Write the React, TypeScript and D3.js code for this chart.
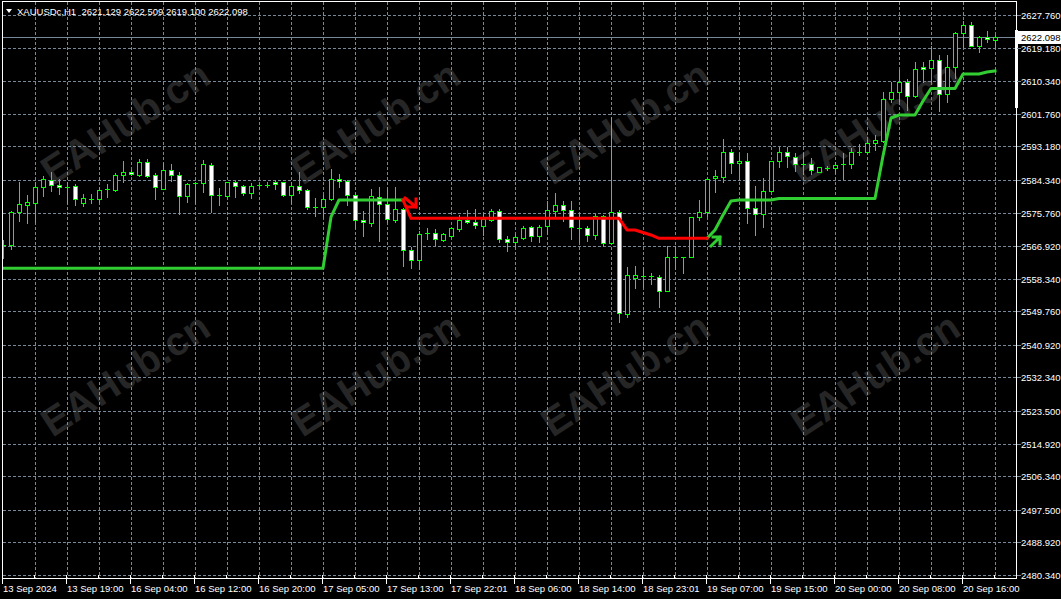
import React from "react";
import * as d3 from "d3";

const W = 1061;
const H = 599;

const opens = [
  2567.30, 2567.22, 2575.90, 2577.75, 2578.27, 2582.48, 2584.33, 2583.01, 2582.55, 2582.75,
  2578.27, 2579.33, 2579.33, 2581.90, 2581.69, 2585.64, 2586.43, 2585.64, 2589.06, 2585.64,
  2581.96, 2586.96, 2585.64, 2580.12, 2583.50, 2583.54, 2588.27, 2580.38, 2580.12, 2583.80,
  2582.75, 2580.91, 2583.01, 2583.05, 2583.80, 2583.80, 2580.38, 2582.75, 2581.69, 2577.22,
  2577.22, 2579.33, 2584.59, 2584.06, 2580.38, 2573.80, 2573.01, 2579.85, 2578.01, 2573.80,
  2576.69, 2565.90, 2563.27, 2570.38, 2570.38, 2568.53, 2569.59, 2571.43, 2573.80, 2573.27,
  2572.22, 2573.80, 2576.17, 2568.80, 2568.01, 2569.06, 2571.96, 2569.59, 2572.22, 2576.17,
  2577.75, 2576.43, 2571.69, 2571.69, 2569.85, 2574.85, 2567.74, 2575.90, 2549.05, 2558.53,
  2559.06, 2559.06, 2558.79, 2555.11, 2564.06, 2564.10, 2564.06, 2574.59, 2575.90, 2584.85,
  2585.12, 2591.70, 2588.80, 2589.33, 2576.96, 2575.38, 2581.43, 2589.33, 2591.70, 2590.38,
  2588.54, 2588.54, 2586.43, 2587.49, 2587.49, 2588.54, 2588.54, 2591.70, 2591.70, 2594.07,
  2594.59, 2605.65, 2607.49, 2610.12, 2606.44, 2614.07, 2613.81, 2615.91, 2606.96, 2614.07,
  2623.02, 2625.13, 2619.60, 2621.97, 2621.129,
];

const highs = [
  2568.53, 2576.17, 2583.80, 2580.38, 2583.80, 2585.38, 2586.43, 2584.59, 2583.80, 2583.27,
  2580.64, 2580.64, 2582.48, 2583.27, 2586.17, 2589.33, 2586.96, 2589.85, 2589.85, 2586.17,
  2588.80, 2588.54, 2586.43, 2583.54, 2583.80, 2589.59, 2588.80, 2582.22, 2583.90, 2584.06,
  2583.01, 2583.54, 2583.54, 2583.80, 2584.33, 2583.90, 2583.80, 2586.43, 2581.96, 2579.59,
  2580.38, 2587.22, 2585.91, 2584.33, 2580.91, 2576.17, 2581.96, 2582.48, 2582.48, 2582.48,
  2576.96, 2566.69, 2570.90, 2571.69, 2571.43, 2570.38, 2571.96, 2575.11, 2576.43, 2576.69,
  2575.64, 2576.69, 2576.69, 2569.59, 2570.11, 2572.22, 2572.22, 2572.48, 2578.80, 2580.91,
  2578.80, 2578.80, 2575.64, 2572.22, 2575.38, 2575.11, 2600.91, 2576.43, 2561.43, 2561.69,
  2561.43, 2559.85, 2559.32, 2566.95, 2566.95, 2564.15, 2574.70, 2579.06, 2584.85, 2586.96,
  2595.12, 2592.49, 2591.43, 2591.43, 2582.75, 2584.85, 2589.45, 2593.01, 2593.01, 2591.43,
  2591.43, 2590.12, 2587.80, 2588.01, 2589.06, 2591.43, 2592.75, 2593.80, 2594.86, 2596.17,
  2607.49, 2610.12, 2613.28, 2610.91, 2615.39, 2615.39, 2619.60, 2617.23, 2617.23, 2623.29,
  2626.18, 2625.92, 2622.23, 2623.55, 2622.509,
];

const lows = [
  2563.80, 2566.16, 2573.53, 2573.01, 2573.27, 2580.12, 2581.43, 2580.64, 2578.27, 2577.75,
  2577.48, 2578.27, 2578.54, 2579.85, 2581.43, 2583.80, 2585.64, 2585.38, 2585.12, 2579.33,
  2581.96, 2584.06, 2575.38, 2578.54, 2578.27, 2581.17, 2575.90, 2577.75, 2579.85, 2579.85,
  2580.38, 2579.59, 2582.22, 2582.48, 2581.96, 2580.12, 2578.27, 2580.91, 2576.69, 2574.85,
  2574.59, 2579.06, 2582.48, 2577.75, 2571.69, 2569.59, 2572.22, 2568.27, 2573.27, 2573.27,
  2561.69, 2561.16, 2560.90, 2568.80, 2567.22, 2568.27, 2569.32, 2570.90, 2573.01, 2571.69,
  2569.85, 2573.53, 2568.01, 2565.64, 2566.69, 2568.80, 2568.27, 2568.01, 2570.11, 2574.85,
  2573.53, 2568.80, 2568.01, 2568.27, 2568.80, 2566.95, 2567.48, 2546.95, 2548.26, 2555.90,
  2556.16, 2556.95, 2550.90, 2555.00, 2560.90, 2559.85, 2563.95, 2573.80, 2574.85, 2581.17,
  2583.80, 2586.17, 2584.33, 2573.01, 2569.85, 2571.96, 2581.33, 2587.75, 2587.75, 2586.70,
  2585.91, 2585.91, 2586.35, 2586.96, 2586.17, 2584.59, 2587.49, 2590.91, 2591.43, 2592.22,
  2594.33, 2604.86, 2605.12, 2602.75, 2606.17, 2610.12, 2610.12, 2602.49, 2604.86, 2611.18,
  2619.34, 2619.50, 2618.02, 2620.65, 2619.100,
];

const closes = [
  2567.22, 2575.90, 2578.01, 2578.54, 2582.48, 2584.59, 2583.01, 2582.48, 2582.48, 2579.33,
  2579.59, 2579.40, 2581.69, 2581.96, 2585.64, 2586.43, 2585.91, 2589.06, 2585.38, 2582.48,
  2586.96, 2585.64, 2580.12, 2583.27, 2583.54, 2588.54, 2580.38, 2580.45, 2583.80, 2582.75,
  2580.91, 2582.75, 2583.05, 2583.10, 2583.27, 2580.38, 2582.75, 2581.69, 2577.22, 2577.25,
  2579.33, 2584.59, 2584.06, 2580.38, 2573.80, 2573.27, 2580.12, 2578.01, 2574.06, 2576.69,
  2565.90, 2563.27, 2570.11, 2570.42, 2568.80, 2570.11, 2571.69, 2573.80, 2573.27, 2572.48,
  2574.06, 2576.17, 2568.80, 2568.01, 2569.32, 2571.69, 2569.59, 2571.96, 2576.43, 2577.75,
  2576.43, 2571.96, 2571.75, 2569.85, 2574.85, 2567.74, 2575.90, 2549.32, 2559.32, 2559.32,
  2559.10, 2559.00, 2555.11, 2564.06, 2564.10, 2564.06, 2574.59, 2575.90, 2584.59, 2585.40,
  2591.70, 2588.80, 2589.33, 2576.96, 2575.38, 2581.43, 2589.33, 2591.70, 2590.64, 2588.54,
  2588.58, 2586.96, 2587.75, 2587.52, 2588.27, 2588.58, 2591.70, 2591.75, 2594.07, 2594.86,
  2605.65, 2607.49, 2610.12, 2606.44, 2613.55, 2613.55, 2615.91, 2606.96, 2614.07, 2623.02,
  2625.13, 2619.60, 2621.97, 2621.44, 2622.098,
];

// trailing-stop style indicator value per bar
const trendValues = [
  2561.08, 2561.08, 2561.08, 2561.08, 2561.08, 2561.08, 2561.08, 2561.08, 2561.08, 2561.08,
  2561.08, 2561.08, 2561.08, 2561.08, 2561.08, 2561.08, 2561.08, 2561.08, 2561.08, 2561.08,
  2561.08, 2561.08, 2561.08, 2561.08, 2561.08, 2561.08, 2561.08, 2561.08, 2561.08, 2561.08,
  2561.08, 2561.08, 2561.08, 2561.08, 2561.08, 2561.08, 2561.08, 2561.08, 2561.08, 2561.08,
  2561.08, 2574.59, 2579.06, 2579.06, 2579.06, 2579.06, 2579.06, 2579.06, 2579.06, 2579.06,
  2579.06, 2574.24, 2574.24, 2574.24, 2574.24, 2574.24, 2574.24, 2574.24, 2574.24, 2574.24,
  2574.24, 2574.24, 2574.24, 2574.24, 2574.24, 2574.24, 2574.24, 2574.24, 2574.24, 2574.24,
  2574.24, 2574.24, 2574.24, 2574.24, 2574.24, 2574.24, 2574.24, 2574.24, 2571.17, 2571.17,
  2570.50, 2569.85, 2568.98, 2568.98, 2568.98, 2568.98, 2568.98, 2568.98, 2568.98, 2571.17,
  2575.11, 2578.80, 2579.06, 2579.06, 2579.06, 2579.06, 2579.06, 2579.46, 2579.46, 2579.46,
  2579.46, 2579.46, 2579.46, 2579.46, 2579.46, 2579.46, 2579.46, 2579.46, 2579.46, 2579.46,
  2590.64, 2600.65, 2601.44, 2601.44, 2601.44, 2605.12, 2608.41, 2608.41, 2608.41, 2608.41,
  2612.23, 2612.23, 2612.23, 2612.76, 2613.02,
];

const upSegments = [[0, 50], [88, 124]];
const downSegments = [[50, 88]];

const sellArrow = { bar: 51, price: 2577.2 };
const buyArrow = { bar: 89, price: 2569.3 };

const priceTicks = [
  "2627.760", "2619.180", "2610.340", "2601.760", "2593.180", "2584.340",
  "2575.760", "2566.920", "2558.340", "2549.760", "2540.920", "2532.340",
  "2523.500", "2514.920", "2506.340", "2497.500", "2488.920", "2480.340",
];

const timeLabels = [
  "13 Sep 2024", "13 Sep 19:00", "16 Sep 04:00", "16 Sep 12:00", "16 Sep 20:00",
  "17 Sep 05:00", "17 Sep 13:00", "17 Sep 22:01", "18 Sep 06:00", "18 Sep 14:00",
  "18 Sep 23:01", "19 Sep 07:00", "19 Sep 15:00", "20 Sep 00:00", "20 Sep 08:00",
  "20 Sep 16:00",
];
const timeLabelEvery = 8;
const gridEvery = 4;

const symbol = "XAUUSDc,H1";
const lastBar = { o: "2621.129", h: "2622.509", l: "2619.100", c: "2622.098" };
const currentPrice = 2622.098;
const watermark = "EAHub.cn";
const watermarkCentersX = [127, 377, 627, 877];
const watermarkCentersY = [125, 377];

const FONT = "'Liberation Sans', Arial, sans-serif";
const GRID = "#778899";
const CANDLE = "#00ff00";
const UP = "#32cd32";
const DOWN = "#ff0000";

export default function App() {
  const n = closes.length;
  const left = 2, right = 1016, top = 1, bottom = 578;
  const x = d3.scaleLinear().domain([0, n - 1]).range([3, 995]);
  const y = d3.scaleLinear().domain([2480.34, 2627.76]).range([575, 15]);

  const line = d3
    .line<number>()
    .x((i) => x(i))
    .y((i) => y(trendValues[i]));

  const seg = (a: number, b: number) => d3.range(a, b + 1);

  const gridXs = d3.range(gridEvery, n, gridEvery).map((i) => Math.round(x(i)) + 0.5);
  const gridYs = priceTicks.map((t) => Math.round(y(+t)) + 0.5);

  const cpY = Math.round(y(currentPrice)) + 0.5;

  const sx = Math.round(x(sellArrow.bar)) + 5;
  const sy = Math.round(y(sellArrow.price));
  const bx = Math.round(x(buyArrow.bar)) + 5;
  const by = Math.round(y(buyArrow.price));

  return (
    <svg
      width={W}
      height={H}
      style={{ position: "absolute", left: 0, top: 0, background: "#000" }}
      fontFamily={FONT}
    >
      <rect x={0} y={0} width={W} height={H} fill="#000" />
      <defs>
        <clipPath id="plot">
          <rect x={left + 1} y={top + 1} width={right - left - 1} height={bottom - top - 1} />
        </clipPath>
      </defs>

      {/* watermarks */}
      {watermarkCentersY.map((cy) =>
        watermarkCentersX.map((cx) => (
          <text
            key={cx + "-" + cy}
            x={cx}
            y={cy}
            transform={`rotate(-33 ${cx} ${cy})`}
            textAnchor="middle"
            dominantBaseline="middle"
            fontSize={40}
            fontWeight="bold"
            fill="#262626"
          >
            {watermark}
          </text>
        ))
      )}

      {/* grid */}
      <g stroke={GRID} strokeWidth={1} strokeDasharray="3,2" shapeRendering="crispEdges">
        {gridXs.map((gx, i) => (
          <line key={"gx" + i} x1={gx} x2={gx} y1={top + 1} y2={bottom} />
        ))}
        {gridYs.map((gy, i) => (
          <line key={"gy" + i} x1={left + 1} x2={right} y1={gy} y2={gy} />
        ))}
      </g>

      {/* current price line */}
      <line x1={left + 1} x2={right} y1={cpY} y2={cpY} stroke={GRID} strokeWidth={1} shapeRendering="crispEdges" />

      {/* candles */}
      <g clipPath="url(#plot)" shapeRendering="crispEdges">
        {closes.map((c, i) => {
          const o = opens[i];
          const cx = Math.round(x(i));
          const yh = Math.round(y(highs[i]));
          const yl = Math.round(y(lows[i]));
          const t = Math.round(y(Math.max(o, c)));
          const b = Math.round(y(Math.min(o, c)));
          const bull = c >= o;
          return (
            <g key={"c" + i}>
              <line x1={cx + 0.5} x2={cx + 0.5} y1={yh} y2={yl + 1} stroke={CANDLE} strokeWidth={1} />
              {b - t < 1 ? (
                <line x1={cx - 2} x2={cx + 3} y1={t + 0.5} y2={t + 0.5} stroke={CANDLE} strokeWidth={1} />
              ) : (
                <rect
                  x={cx - 1.5}
                  y={t + 0.5}
                  width={4}
                  height={b - t}
                  fill={bull ? "#000" : "#fff"}
                  stroke={CANDLE}
                  strokeWidth={1}
                />
              )}
            </g>
          );
        })}
      </g>

      {/* indicator line */}
      <g clipPath="url(#plot)" fill="none" strokeWidth={3} strokeLinejoin="round" strokeLinecap="square">
        {upSegments.map(([a, b], k) => (
          <path key={"u" + k} d={line(seg(a, b)) || ""} stroke={UP} />
        ))}
        {downSegments.map(([a, b], k) => (
          <path key={"d" + k} d={line(seg(a, b)) || ""} stroke={DOWN} />
        ))}
      </g>

      {/* signal arrows */}
      <g fill="none" strokeWidth={3} strokeLinecap="square" strokeLinejoin="miter">
        <path d={`M${sx - 11},${sy - 9} L${sx},${sy} M${sx},${sy - 8} L${sx},${sy} L${sx - 8},${sy}`} stroke={DOWN} />
        <path d={`M${bx - 9},${by + 9} L${bx},${by} M${bx - 7},${by} L${bx},${by} L${bx},${by + 7}`} stroke={UP} />
      </g>

      {/* frame */}
      <rect
        x={left + 0.5}
        y={top + 0.5}
        width={right - left}
        height={bottom - top}
        fill="none"
        stroke="#fff"
        strokeWidth={1}
        shapeRendering="crispEdges"
      />
      <rect x={right - 1} y={30} width={3} height={78} fill="#fff" />

      {/* price axis */}
      <g fontSize={9.5} fill="#fff">
        {priceTicks.map((t, i) => (
          <g key={"pt" + i}>
            <line x1={right + 1} x2={right + 5} y1={gridYs[i]} y2={gridYs[i]} stroke={GRID} shapeRendering="crispEdges" />
            <text x={1021} y={gridYs[i] + 3.5}>{t}</text>
          </g>
        ))}
      </g>
      <rect x={right + 1} y={cpY - 6.5} width={W - right - 1} height={13} fill="#fff" />
      <text x={1021} y={cpY + 3.5} fontSize={9.5} fill="#000">
        {currentPrice.toFixed(3)}
      </text>

      {/* time axis */}
      <g fontSize={9.5} fill="#fff">
        {gridXs.map((gx, i) => (
          <line key={"st" + i} x1={gx - 1} x2={gx - 1} y1={bottom - 3} y2={bottom} stroke="#fff" shapeRendering="crispEdges" />
        ))}
        {timeLabels.map((lab, k) => {
          const tx = Math.round(x(k * timeLabelEvery)) - 1;
          return (
            <g key={"tl" + k}>
              <line x1={tx + 0.5} x2={tx + 0.5} y1={bottom} y2={bottom + 6} stroke="#fff" shapeRendering="crispEdges" />
              <text x={tx + 1} y={592}>{lab}</text>
            </g>
          );
        })}
      </g>

      {/* header */}
      <path d="M6,9 L12,9 L9,13 Z" fill="#fff" />
      <text x={17} y={15} fontSize={9.5} fill="#fff" xmlSpace="preserve">
        {`${symbol}  ${lastBar.o} ${lastBar.h} ${lastBar.l} ${lastBar.c}`}
      </text>
    </svg>
  );
}
